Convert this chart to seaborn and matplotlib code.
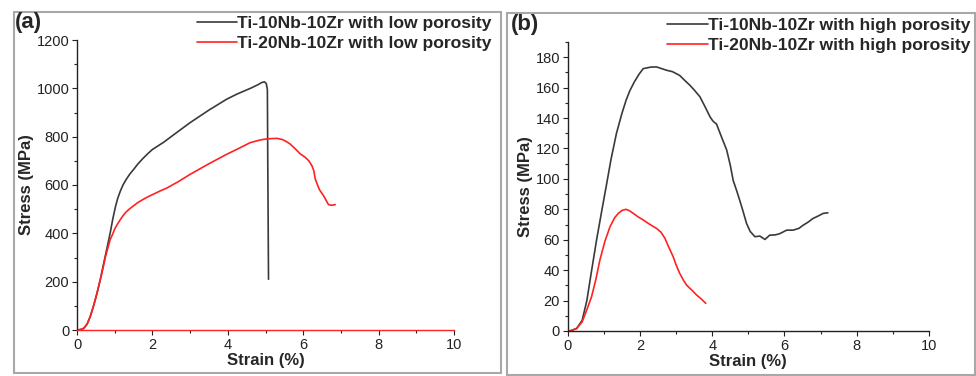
import matplotlib
matplotlib.use("Agg")
import matplotlib.pyplot as plt
import seaborn as sns
import pandas as pd
from matplotlib.patches import Rectangle
from matplotlib.ticker import MultipleLocator

# (a) low porosity
a_black_x = [0, 0.1, 0.18, 0.27, 0.35, 0.44, 0.53, 0.62, 0.7, 0.79, 0.88, 0.95, 1.02, 1.08, 1.15, 1.22, 1.3, 1.4, 1.5, 1.62, 1.75, 1.88, 2.0, 2.15, 2.3, 2.6, 3.0, 3.5, 3.97, 4.24, 4.6, 4.8, 4.9, 4.97, 5.02, 5.05, 5.06, 5.08]
a_black_y = [0, 2, 7, 25, 55, 100, 152, 210, 270, 335, 401, 460, 510, 545, 575, 600, 622, 645, 664, 688, 710, 730, 747, 762, 777, 812, 858, 910, 955, 976, 1000, 1015, 1024, 1027, 1020, 995, 700, 210]
a_red_x = [0, 0.1, 0.18, 0.27, 0.35, 0.44, 0.53, 0.62, 0.7, 0.75, 0.82, 0.88, 0.95, 1.0, 1.08, 1.15, 1.22, 1.3, 1.4, 1.5, 1.62, 1.75, 1.88, 2.0, 2.2, 2.39, 2.7, 3.0, 3.5, 3.97, 4.3, 4.59, 4.8, 4.95, 5.15, 5.3, 5.45, 5.55, 5.65, 5.8, 5.92, 6.05, 6.15, 6.23, 6.28, 6.32, 6.38, 6.43, 6.55, 6.67, 6.75, 6.85]
a_red_y = [0, 2, 7, 25, 55, 100, 152, 210, 263, 300, 340, 374, 398, 418, 440, 457, 473, 488, 502, 514, 528, 540, 551, 560, 575, 588, 615, 644, 688, 727, 752, 775, 784, 789, 792, 793, 788, 780, 770, 748, 729, 715, 700, 680, 660, 625, 600, 581, 553, 519, 516, 519]

# (b) high porosity
b_black_x = [0, 0.1, 0.25, 0.4, 0.53, 0.65, 0.8, 0.95, 1.08, 1.2, 1.35, 1.5, 1.62, 1.72, 1.85, 1.98, 2.09, 2.3, 2.46, 2.6, 2.74, 2.9, 3.1, 3.25, 3.38, 3.5, 3.66, 3.8, 3.94, 4.02, 4.12, 4.25, 4.4, 4.5, 4.58, 4.68, 4.76, 4.85, 4.95, 5.05, 5.18, 5.32, 5.46, 5.59, 5.75, 5.87, 6.06, 6.24, 6.4, 6.52, 6.65, 6.79, 6.95, 7.07, 7.2]
b_black_y = [0, 0.3, 1.7, 7, 20, 38, 60, 80, 97, 113, 130, 143, 152, 158, 164, 169, 172.5, 173.5, 173.6, 172.5, 171.4, 170.5, 168, 164.5, 161.6, 158.5, 154, 147.5, 140.8, 138, 136, 128, 119, 109, 99, 92, 86, 79, 70.7, 65.5, 62, 62.4, 60.2, 63, 63.2, 64, 66.3, 66.3, 67.5, 69.6, 71.5, 74, 75.8, 77.3, 77.7]
b_red_x = [0, 0.1, 0.25, 0.4, 0.53, 0.66, 0.78, 0.89, 1.03, 1.17, 1.3, 1.4, 1.5, 1.61, 1.7, 1.82, 1.95, 2.09, 2.28, 2.46, 2.58, 2.69, 2.8, 2.92, 3.0, 3.1, 3.2, 3.29, 3.43, 3.57, 3.7, 3.82]
b_red_y = [0, 0.3, 1.7, 6, 14, 22.5, 34, 46.6, 59, 68.5, 74.5, 77.3, 79.2, 80, 79.2, 77.3, 75, 73, 70, 67.4, 65, 61, 55, 48.8, 43.5, 37.9, 33.5, 30.2, 27, 23.6, 21, 18.2]

labels_a = ["Ti-10Nb-10Zr with low porosity", "Ti-20Nb-10Zr with low porosity"]
labels_b = ["Ti-10Nb-10Zr with high porosity", "Ti-20Nb-10Zr with high porosity"]

BLACK = "#3a3a3a"
RED = "#ff2222"

sns.set_style("ticks")
plt.rcParams["font.family"] = ["Liberation Sans", "DejaVu Sans"]

fig = plt.figure(figsize=(9.76, 3.76), dpi=100)

# panel frames
fig.patches.append(Rectangle((14 / 976, 3 / 376), 487 / 976, 361 / 376, transform=fig.transFigure,
                             fill=False, edgecolor="#a8a8a8", linewidth=1.5))
fig.patches.append(Rectangle((507 / 976, 1 / 376), 468 / 976, 362 / 376, transform=fig.transFigure,
                             fill=False, edgecolor="#a8a8a8", linewidth=1.5))

ax1 = fig.add_axes([77 / 976, 1 - 330 / 376, 377 / 976, 290 / 376])
ax2 = fig.add_axes([567.7 / 976, 1 - 331 / 376, 361.3 / 976, 289 / 376])


def draw(ax, bx, by, rx, ry, labels, ymax, ymaj, ymin):
    d1 = pd.DataFrame({"x": bx, "y": by})
    d2 = pd.DataFrame({"x": rx, "y": ry})
    sns.lineplot(data=d1, x="x", y="y", ax=ax, color=BLACK, lw=1.2, sort=False, estimator=None, label=labels[0])
    sns.lineplot(data=d2, x="x", y="y", ax=ax, color=RED, lw=1.2, sort=False, estimator=None, label=labels[1])
    ax.set_xlim(0, 10)
    ax.set_ylim(0, ymax)
    ax.xaxis.set_major_locator(MultipleLocator(2))
    ax.xaxis.set_minor_locator(MultipleLocator(1))
    ax.yaxis.set_major_locator(MultipleLocator(ymaj))
    ax.yaxis.set_minor_locator(MultipleLocator(ymin))
    ax.tick_params(axis="both", which="major", labelsize=10.5, length=3.5, width=0.8, pad=2, colors="#222222")
    ax.tick_params(axis="both", which="minor", length=2, width=0.8, colors="#222222")
    sns.despine(ax=ax)
    for s in ("left", "bottom"):
        ax.spines[s].set_color("#222222")
        ax.spines[s].set_linewidth(1.0)
    ax.set_xlabel("Strain (%)", fontsize=12, fontweight="bold", labelpad=1)
    ax.set_ylabel("Stress (MPa)", fontsize=12, fontweight="bold", labelpad=2)


draw(ax1, a_black_x, a_black_y, a_red_x, a_red_y, labels_a, 1200, 200, 100)
draw(ax2, b_black_x, b_black_y, b_red_x, b_red_y, labels_b, 190, 20, 10)
ax1.spines["bottom"].set_color(RED)

leg_kw = dict(loc="upper right", bbox_transform=fig.transFigure, frameon=False,
              handlelength=2.3, handletextpad=0.0, borderaxespad=0, borderpad=0,
              labelspacing=0.28, prop={"weight": "bold", "size": 12.6})
ax1.legend(bbox_to_anchor=(492 / 976, 1 - 16 / 376), **leg_kw)
ax2.legend(bbox_to_anchor=(970 / 976, 1 - 18 / 376), **leg_kw)

fig.text(15 / 976, 1 - 12 / 376, "(a)", fontsize=16, fontweight="bold", va="top", ha="left")
fig.text(511 / 976, 1 - 14 / 376, "(b)", fontsize=16, fontweight="bold", va="top", ha="left")

fig.savefig("out.png", dpi=100)
